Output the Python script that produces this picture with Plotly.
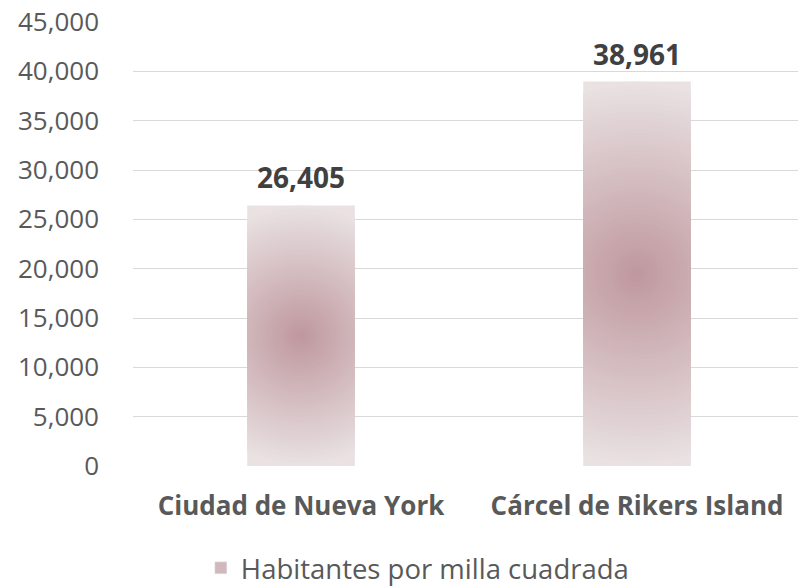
import numpy as np
import plotly.graph_objects as go

# ---- data ----
categories = ["Ciudad de Nueva York", "Cárcel de Rikers Island"]
values = [26405, 38961]
series_name = "Habitantes por milla cuadrada"
y_ticks = [0, 5000, 10000, 15000, 20000, 25000, 30000, 35000, 40000, 45000]

# ---- layout constants ----
W, H = 798, 587
ML, MR, MT, MB = 133, 0, 22, 121
X_RANGE = [-0.5, 1.479]
Y_RANGE = [0, 45000]
BAR_W = 0.32
plot_w = W - ML - MR
plot_h = H - MT - MB
px_per_x = plot_w / (X_RANGE[1] - X_RANGE[0])
y_per_px = (Y_RANGE[1] - Y_RANGE[0]) / plot_h

C_CENTER = np.array([190, 151, 157])
C_EDGE = np.array([233, 225, 226])


def mix(t):
    c = C_CENTER + (C_EDGE - C_CENTER) * t
    return "rgb(%d,%d,%d)" % tuple(np.round(c).astype(int))


xs = list(range(len(categories)))
fig = go.Figure()

# base bars (edge colour)
fig.add_trace(go.Bar(
    x=xs, y=values, width=BAR_W, marker=dict(color=mix(1.0), line=dict(width=0)),
    showlegend=False, hoverinfo="skip",
))

# radial gradient overlay computed from each bar's value
N = 45
theta = np.linspace(0, 2 * np.pi, 121)
for i, v in zip(xs, values):
    cx, cy = i, v / 2.0
    R = (v / 2.0) / y_per_px  # radius in px
    for k in range(N):
        r = R * (1 - k / N)
        t = r / R
        px = cx + r * np.cos(theta) / px_per_x
        py = cy + r * np.sin(theta) * y_per_px
        px = np.clip(px, cx - BAR_W / 2, cx + BAR_W / 2)
        py = np.clip(py, 0, v)
        fig.add_trace(go.Scatter(
            x=px, y=py, mode="lines", fill="toself", fillcolor=mix(t),
            line=dict(width=0), showlegend=False, hoverinfo="skip",
        ))

# legend-only entry
fig.add_trace(go.Bar(
    x=[None], y=[None], name=series_name,
    marker=dict(color=mix(0.45)), showlegend=True,
))

# data labels
for i, v in zip(xs, values):
    fig.add_annotation(
        x=i, y=v, text="<b>%s</b>" % format(v, ","), showarrow=False,
        yanchor="bottom", yshift=7,
        font=dict(family="Open Sans", size=28, color="#404040"),
    )

fig.update_layout(
    width=W, height=H,
    margin=dict(l=ML, r=MR, t=MT, b=MB, pad=0, autoexpand=False),
    paper_bgcolor="white", plot_bgcolor="white",
    barmode="overlay",
    font=dict(family="Open Sans", color="#595959"),
    xaxis=dict(
        range=X_RANGE, tickvals=xs,
        ticktext=["<b>%s</b>" % c for c in categories],
        showgrid=False, zeroline=False, showline=False, ticks="",
        tickfont=dict(family="Open Sans", size=26, color="#595959"),
        ticklabelstandoff=22, fixedrange=True, automargin=False,
    ),
    yaxis=dict(
        range=Y_RANGE, tickvals=y_ticks, tickformat=",",
        showgrid=True, gridcolor="#d9d9d9", gridwidth=1,
        zeroline=False, showline=False, ticks="",
        tickfont=dict(family="Open Sans", size=26, color="#595959"),
        ticklabelstandoff=33, fixedrange=True, automargin=False,
    ),
    legend=dict(
        orientation="h", xref="container", yref="container",
        x=0.523, xanchor="center", y=0.0324, yanchor="middle",
        font=dict(family="Open Sans", size=27.5, color="#595959"),
    ),
    showlegend=True,
)

fig.write_html(
    "out.html",
    config={"displayModeBar": False},
    post_script="document.body.style.margin='0px';document.body.style.padding='0px';",
)
